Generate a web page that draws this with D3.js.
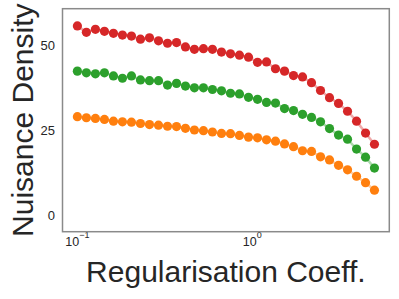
<!DOCTYPE html>
<html>
<head>
<meta charset="utf-8">
<script src="https://cdn.jsdelivr.net/npm/d3@7"></script>
<style>
  body { margin: 0; background: #fff; }
  svg { display: block; font-family: "Liberation Sans", Arial, sans-serif; }
</style>
</head>
<body>
<div id="chart-area"></div>
<script>
// regularisation coefficients (log spaced)
const coeffs = [0.1, 0.1126, 0.1268, 0.1428, 0.1608, 0.181, 0.2038, 0.2295, 0.2584, 0.291,
  0.3277, 0.369, 0.415, 0.467, 0.526, 0.592, 0.667, 0.751, 0.845, 0.952,
  1.072, 1.207, 1.358, 1.53, 1.722, 1.939, 2.183, 2.458, 2.767, 3.116,
  3.508, 3.95, 4.446, 5.0];

const redVals = [55.6, 53.7, 54.6, 54.0, 53.4, 52.9, 52.6, 51.7, 52.1, 51.2,
  50.5, 50.7, 49.4, 48.7, 48.9, 48.7, 47.9, 47.4, 47.0, 46.4,
  44.9, 45.0, 43.0, 42.3, 41.0, 40.6, 38.9, 36.6, 34.5, 32.8,
  30.5, 27.6, 24.1, 20.8];
const greenVals = [42.3, 41.8, 41.5, 41.8, 40.9, 40.2, 40.9, 39.7, 39.5, 39.5,
  38.2, 38.7, 37.9, 37.4, 37.4, 36.9, 36.5, 35.8, 35.6, 34.6,
  34.0, 33.1, 32.9, 31.3, 30.7, 29.6, 28.7, 27.4, 25.4, 23.5,
  22.3, 19.4, 17.0, 13.8];
const orangeVals = [28.9, 28.6, 28.4, 28.1, 27.6, 27.4, 27.3, 26.9, 26.6, 26.4,
  26.1, 26.0, 25.5, 25.0, 24.8, 24.4, 24.0, 23.9, 23.4, 22.9,
  22.7, 22.1, 21.7, 20.9, 20.1, 18.9, 18.7, 17.1, 16.2, 14.6,
  13.3, 11.4, 9.5, 7.3];

const yTicks = [0, 25, 50];
const xTicks = [0.1, 1];
const xTickExp = ['\u22121', '0'];

const seriesList = [
  { vals: redVals, color: '#d62728' },
  { vals: greenVals, color: '#2ca02c' },
  { vals: orangeVals, color: '#ff7f0e' }
];

const W = 399, H = 299;
const margin = { left: 62.5, right: 9.7, top: 8.7, bottom: 67.3 };
const width = W - margin.left - margin.right;
const height = H - margin.top - margin.bottom;

const svg = d3.select('#chart-area')
  .append('svg')
  .attr('width', W)
  .attr('height', H);

const g = svg.append('g')
  .attr('transform', 'translate(' + margin.left + ',' + margin.top + ')');

const x = d3.scaleLog()
  .domain([0.0822, 6.08])
  .range([0, width]);

const y = d3.scaleLinear()
  .domain([-4.9, 60.65])
  .range([height, 0]);

// lines + dots
seriesList.forEach(s => {
  const pts = coeffs.map((c, i) => [c, s.vals[i]]);
  g.append('path')
    .datum(pts)
    .attr('fill', 'none')
    .attr('stroke', s.color)
    .attr('stroke-opacity', 0.4)
    .attr('stroke-width', 2.5)
    .attr('d', d3.line().x(d => x(d[0])).y(d => y(d[1])));
  g.selectAll(null)
    .data(pts)
    .enter()
    .append('circle')
    .attr('cx', d => x(d[0]))
    .attr('cy', d => y(d[1]))
    .attr('r', 4.6)
    .attr('fill', s.color);
});

// y tick labels
g.selectAll('.ytick')
  .data(yTicks)
  .enter()
  .append('text')
  .attr('class', 'ytick')
  .attr('x', -7.5)
  .attr('y', d => y(d))
  .attr('dy', '0.36em')
  .attr('text-anchor', 'end')
  .attr('font-size', '13px')
  .attr('fill', '#262626')
  .text(d => d);

// x tick labels as 10^n
const xt = g.selectAll('.xtick')
  .data(xTicks)
  .enter()
  .append('text')
  .attr('class', 'xtick')
  .attr('x', d => x(d))
  .attr('y', height + 14.5)
  .attr('text-anchor', 'middle')
  .attr('font-size', '12.5px')
  .attr('fill', '#262626');
xt.append('tspan').text('10');
xt.append('tspan')
  .attr('dy', -8)
  .attr('font-size', '9px')
  .text((d, i) => xTickExp[i]);

// frame
g.append('rect')
  .attr('x', 0)
  .attr('y', 0)
  .attr('width', width)
  .attr('height', height)
  .attr('fill', 'none')
  .attr('stroke', '#8a8a8a')
  .attr('stroke-width', 1.5);

// axis labels
svg.append('text')
  .attr('x', margin.left + width / 2)
  .attr('y', 282)
  .attr('text-anchor', 'middle')
  .attr('font-size', '30px')
  .attr('fill', '#262626')
  .text('Regularisation Coeff.');

svg.append('text')
  .attr('transform', 'translate(33,' + (margin.top + height / 2) + ') rotate(-90)')
  .attr('text-anchor', 'middle')
  .attr('font-size', '30px')
  .attr('fill', '#262626')
  .text('Nuisance Density');
</script>
</body>
</html>
